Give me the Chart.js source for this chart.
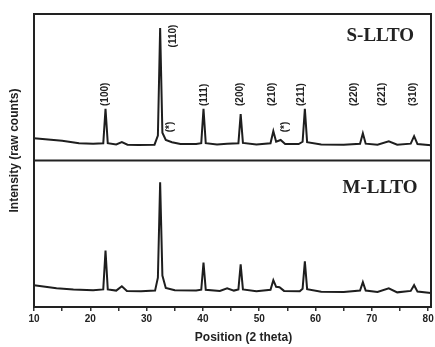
<!DOCTYPE html>
<html>
<head>
<meta charset="utf-8">
<script src="https://cdn.jsdelivr.net/npm/chart.js@4"></script>
<style>
    body { margin: 0; background: #fff; }
    #wrap { width: 435px; height: 347px; }
</style>
</head>
<body>
<div id="wrap"><canvas id="xrdChart"></canvas></div>
<script>
// S-LLTO pattern (upper panel): 2 theta / raw counts
const sAngles = [10, 12, 15, 18, 20.5, 22.3, 22.7, 23.1, 24.6, 25.6, 26.6, 28.5, 31.4, 32.0, 32.4, 32.8, 33.4, 34.5, 36,
    38.8, 39.7, 40.1, 40.5, 42.5, 44.3, 46.3, 46.7, 47.1, 49.5, 52.0, 52.5, 53.0, 53.8, 54.6, 57.0, 57.7, 58.1, 58.5,
    61, 65, 67.9, 68.4, 68.9, 71, 73.0, 74.5, 76.9, 77.5, 78.1, 80.5];
const sCounts = [152, 145, 135, 118, 115, 118, 352, 118, 110, 125, 108, 106, 108, 170, 904, 190, 140, 125, 112,
    112, 118, 352, 118, 110, 115, 118, 317, 120, 110, 118, 200, 128, 140, 112, 112, 128, 352, 125,
    110, 108, 114, 186, 115, 108, 131, 108, 115, 166, 112, 104];

// M-LLTO pattern (lower panel)
const mAngles = [10, 12, 14, 17, 20.5, 22.3, 22.7, 23.1, 24.6, 25.6, 26.5, 29, 31.5, 32.0, 32.4, 32.8, 33.4, 35,
    38.8, 39.7, 40.1, 40.5, 43, 44.3, 45.5, 46.3, 46.7, 47.1, 49.5, 52.0, 52.5, 53.0, 53.6, 54.4, 57.2, 57.7, 58.1, 58.5,
    61, 65, 67.9, 68.4, 68.9, 71, 73.0, 74.5, 76.9, 77.5, 78.1, 80.5];
const mCounts = [149, 138, 128, 120, 115, 120, 385, 120, 112, 142, 110, 108, 112, 200, 852, 215, 130, 115,
    112, 118, 304, 118, 110, 128, 112, 120, 291, 120, 108, 118, 183, 138, 135, 110, 108, 125, 311, 122,
    104, 102, 112, 169, 112, 102, 128, 100, 110, 149, 105, 95];

const xTickValues = [10, 15, 20, 25, 30, 35, 40, 45, 50, 55, 60, 65, 70, 75, 80];

// reflection labels on the upper pattern
const hklLabels = ['(100)', '(110)', '(*)', '(111)', '(200)', '(210)', '(*)', '(211)', '(220)', '(221)', '(310)'];
const hklAngles = [22.6, 34.7, 34.2, 40.3, 46.7, 52.3, 54.7, 57.4, 66.8, 71.9, 77.3];
const hklLevels = [372, 772, 193, 372, 372, 372, 193, 372, 372, 372, 372];

const sampleNames = ['S-LLTO', 'M-LLTO'];

const toPoints = (xs, ys) => xs.map((x, i) => ({ x: x, y: ys[i] }));

const framePlugin = {
    id: 'frame',
    afterDatasetsDraw(chart) {
        const { ctx, chartArea: a, scales } = chart;
        const x = scales.x;
        ctx.save();
        ctx.strokeStyle = '#222';
        ctx.lineWidth = 2;
        ctx.strokeRect(a.left, a.top, a.width, a.height);
        ctx.beginPath();
        ctx.moveTo(a.left, scales.yBot.top);
        ctx.lineTo(a.right, scales.yBot.top);
        ctx.stroke();

        // hkl labels, rotated
        ctx.fillStyle = '#222';
        ctx.font = 'bold 10px "Liberation Sans", Arial';
        ctx.textAlign = 'left';
        ctx.textBaseline = 'middle';
        hklLabels.forEach((t, i) => {
            ctx.save();
            ctx.translate(x.getPixelForValue(hklAngles[i]), scales.yTop.getPixelForValue(hklLevels[i]));
            ctx.rotate(-Math.PI / 2);
            ctx.fillText(t, 0, 0);
            ctx.restore();
        });

        // sample names
        ctx.font = 'bold 19px "Liberation Serif", serif';
        ctx.textAlign = 'right';
        ctx.fillText(sampleNames[0], x.getPixelForValue(77.5), scales.yTop.getPixelForValue(848));
        ctx.fillText(sampleNames[1], x.getPixelForValue(78.1), scales.yBot.getPixelForValue(811));

        // axis titles
        ctx.font = 'bold 12px "Liberation Sans", Arial';
        ctx.textAlign = 'center';
        ctx.fillText('Position (2 theta)', (a.left + a.right) / 2 + 11, 338);
        ctx.save();
        ctx.translate(15, (a.top + a.bottom) / 2 - 10);
        ctx.rotate(-Math.PI / 2);
        ctx.fillText('Intensity (raw counts)', 0, 0);
        ctx.restore();
        ctx.restore();
    }
};

const panelAxis = {
    type: 'linear',
    position: 'left',
    stack: 'xrd',
    stackWeight: 1,
    min: 0,
    max: 1000,
    ticks: { display: false },
    grid: { display: false },
    border: { display: false },
    afterFit(scale) { scale.width = 34; }
};

new Chart(document.getElementById('xrdChart'), {
    type: 'line',
    data: {
        datasets: [{
            label: 'S-LLTO',
            data: toPoints(sAngles, sCounts),
            yAxisID: 'yTop',
            borderColor: '#1e1e1e',
            borderWidth: 2,
            pointRadius: 0,
            tension: 0
        }, {
            label: 'M-LLTO',
            data: toPoints(mAngles, mCounts),
            yAxisID: 'yBot',
            borderColor: '#1e1e1e',
            borderWidth: 2,
            pointRadius: 0,
            tension: 0
        }]
    },
    options: {
        responsive: true,
        maintainAspectRatio: false,
        animation: false,
        layout: { padding: { top: 14, right: 4 } },
        plugins: {
            legend: { display: false },
            tooltip: { enabled: false }
        },
        scales: {
            x: {
                type: 'linear',
                min: 10,
                max: 80.5,
                afterBuildTicks(scale) { scale.ticks = xTickValues.map(v => ({ value: v })); },
                afterFit(scale) { scale.height = 40; scale.paddingLeft = 0; scale.paddingRight = 0; },
                ticks: {
                    color: '#222',
                    font: { family: '"Liberation Sans", Arial', size: 10, weight: 'bold' },
                    padding: 2,
                    maxRotation: 0,
                    callback: v => (v % 10 === 0 ? v : '')
                },
                grid: { drawOnChartArea: false, tickLength: 4, color: '#333', lineWidth: 1.5 },
                border: { display: false }
            },
            // first stacked axis goes to the bottom
            yBot: Object.assign({}, panelAxis),
            yTop: Object.assign({}, panelAxis)
        }
    },
    plugins: [framePlugin]
});
</script>
</body>
</html>
